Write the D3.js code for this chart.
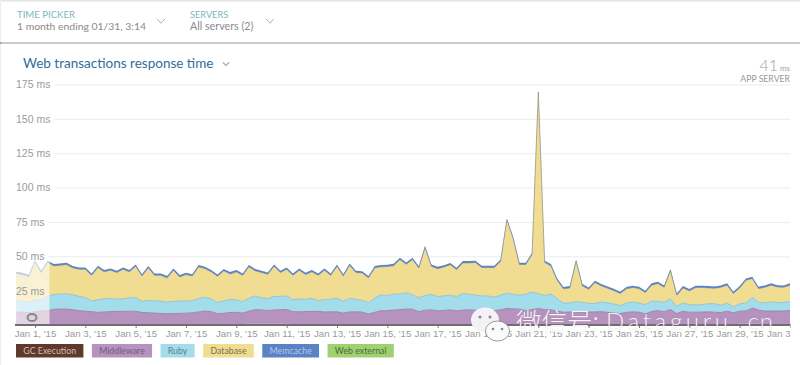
<!DOCTYPE html>
<html>

<head>
    <meta charset="utf-8">
    <script src="https://d3js.org/d3.v7.min.js"></script>
    <style>
        html, body { margin: 0; padding: 0; background: #fff; overflow: hidden; }
        svg { display: block; font-family: Lato, "Open Sans", sans-serif; }
        .gridlines line { stroke: #ececec; }
        .gridlines .domain, .y.axis .domain, .x.axis .domain { stroke: none; }
        .y.axis text { fill: #9a9a9a; font-size: 10.5px; }
        .x.axis text { fill: #9a9a9a; font-size: 9.7px; }
        .x.axis line { stroke: #777; }
        .y.axis line { stroke: none; }
        #watermark text { fill: #fff; fill-opacity: 0.92; stroke: #666; stroke-opacity: 0.25; stroke-width: 0.5; paint-order: stroke; }
    </style>
</head>

<body>
    <svg id="chart" width="800" height="365"></svg>
    <script>
        // values, one every 6 hours from Dec 31 06:00
        const yTicks = [25, 50, 75, 100, 125, 150, 175];
        const seriesNames = ["GC Execution", "Middleware", "Ruby", "Database", "Memcache", "Web external"];

        const totalMs = [
            38.7, 38.0, 36.6, 47.2, 39.5, 46.7, 44.3, 44.8, 45.3, 42.9, 41.9, 41.9, 37.5, 43.1, 40, 41.2, 39.5, 41.9, 40, 44.1, 37,
            42.9, 37.5, 37.5, 35.6, 41.2, 36.3, 38, 37, 43.6, 42.4, 40, 36.8, 40.7, 38.5, 40, 37.5, 43.6, 40.7, 39.5, 38.2,
            44.1, 39.5, 41.9, 37.5, 41.2, 38, 40, 37.5, 41.2, 37.5, 44.1, 37, 44.8, 39.5, 39.2, 35.6, 42.9, 43.6, 43.8, 44.5,
            48.9, 45.5, 48.9, 42.8, 57.4, 44, 42.3, 43.5, 45.2, 41.6, 46.5, 46.5, 46.7, 43.1, 43.1, 43.1, 47.7, 77.4, 64, 45.3,
            45.3, 52.5, 170, 46.7, 44.3, 33.9, 27.6, 28.3, 47.4, 29.8, 27.3, 32.2, 29.8, 28.1, 26.4, 24.2, 27.6, 28.6, 27.8,
            24.9, 30.3, 31.5, 28.8, 40.7, 23, 28.3, 26.2, 28.6, 28.6, 28.3, 28.1, 28.8, 30.3, 24.2, 28.3, 33.9, 35.1, 27.8, 28.8, 30.3, 29, 28.8, 30.3
        ];
        const gcExecution = [
            0.2, 0.2, 0.2, 0.2, 0.2, 0.2, 0.2, 0.2, 0.2, 0.2, 0.2, 0.2, 0.2, 0.2, 0.2, 0.2, 0.2, 0.2, 0.2, 0.2, 0.2,
            0.2, 0.2, 0.2, 0.2, 0.2, 0.2, 0.2, 0.2, 0.2, 0.2, 0.2, 0.2, 0.2, 0.2, 0.3, 0.8, 1, 1, 1, 1,
            1, 1, 0.9, 0.7, 0.3, 0.2, 0.2, 0.2, 0.2, 0.2, 0.2, 0.2, 0.2, 0.2, 0.2, 0.2, 0.2, 0.2, 0.2, 0.2,
            0.2, 0.2, 0.2, 0.2, 0.2, 0.2, 0.2, 0.2, 0.2, 0.2, 0.2, 0.2, 0.2, 0.2, 0.2, 0.2, 0.2, 0.2, 0.2, 0.2,
            0.2, 0.2, 0.2, 0.2, 0.2, 0.3, 0.3, 0.4, 0.5, 0.5, 0.5, 0.5, 0.5, 0.4, 0.3, 0.3, 0.3, 0.3, 0.3,
            0.3, 0.3, 0.3, 0.3, 0.3, 0.3, 0.3, 0.3, 0.3, 0.3, 0.3, 0.3, 0.3, 0.3, 0.5, 0.9, 1, 1, 0.9, 0.4, 0.3, 0.3, 0.3, 0.3
        ];
        const middleware = [
            9, 9.2, 8.8, 9.5, 10, 10.2, 11.2, 11.4, 11.4, 11, 10.2, 9.8, 9.5, 9, 9.3, 9.6, 9.7, 9.7, 9.8, 9.8, 8.9,
            8.7, 8.5, 8.2, 8, 8.1, 8.2, 8.4, 8.6, 9.3, 9.9, 9.6, 8, 8.3, 8.9, 8.9, 7.9, 9, 10.2, 10, 9.6,
            9.9, 10.1, 10.4, 9, 9.3, 9.6, 9.7, 9.7, 9.3, 9.4, 9.4, 8.5, 9.3, 9.4, 9.2, 7.8, 9, 10.2, 10.2, 10.7,
            11, 11.4, 11.3, 9.5, 10.6, 10.8, 10.1, 10.4, 10.8, 10.1, 10.6, 10.9, 10.6, 10.4, 10.2, 10.3, 10.9, 11.8, 11.6, 11.3,
            10.3, 11, 11.8, 11, 10.8, 9.8, 9, 9, 9.2, 9.2, 8.9, 9, 9.2, 8.8, 8.4, 8, 8.9, 9.3, 9,
            7.8, 9.5, 10.2, 9.4, 11, 8, 9.7, 9, 9, 9.1, 9.3, 9, 8.8, 9.7, 8.4, 9.1, 9.2, 11.3, 10, 9.7, 9.9, 9.8, 9.9, 10.2
        ];
        const ruby = [
            8.7, 7.8, 7.4, 8.6, 7.7, 10.4, 10.8, 10.9, 11.1, 10.8, 10.4, 10, 7.9, 9.1, 9.6, 9.5, 8.9, 9.2, 9.8, 10, 8.1,
            9, 8.9, 9, 8.5, 8.9, 9, 8.9, 8.8, 9.8, 10.2, 9.3, 8.2, 9.1, 9.3, 9.3, 8.3, 9.6, 9.9, 8.9, 8.6,
            9.9, 9.7, 9.9, 8.7, 9.3, 9, 9.4, 8, 8.9, 9.2, 9.7, 8.5, 9.8, 9.2, 8.5, 8.4, 10.4, 11.6, 11.1, 11.6,
            11.2, 11.8, 10.5, 10.1, 10.7, 11.4, 10.4, 10.6, 10.7, 10.4, 12.1, 11.3, 10.9, 10.6, 10.8, 9.8, 10.6, 11.2, 10.4, 10.2,
            12, 12.7, 10.9, 10.3, 11.5, 9.1, 6.7, 6.7, 7.2, 6.8, 6.3, 6.2, 7, 6.9, 6.6, 5.8, 6.8, 7.1, 6.7,
            6.7, 7.5, 6.8, 6.8, 7.6, 5.3, 6, 5.5, 5.3, 5.4, 5.9, 6.2, 5.2, 6, 4.4, 5.4, 5.8, 7.8, 5.7, 6, 6.6, 6.1, 6.3, 6.5
        ];
        const memcache = [
            1.3, 1.3, 1.3, 0.9, 1.3, 0.9, 1.3, 1.3, 1.3, 1.3, 1.3, 1.3, 1.3, 1.3, 1.3, 1.3, 1.3, 1.3, 1.3, 1.3, 1.3,
            1.3, 1.3, 1.3, 1.3, 1.3, 1.3, 1.3, 1.3, 1.3, 1.3, 1.3, 1.3, 1.3, 1.3, 1.3, 1.3, 1.3, 1.3, 1.3, 1.3,
            1.3, 1.3, 1.3, 1.3, 1.3, 1.3, 1.3, 1.3, 1.3, 1.3, 1.3, 1.3, 1.3, 1.3, 1.3, 1.3, 1.3, 1.3, 1.3, 1.3,
            1.3, 1.3, 1.3, 1.3, 1.0, 1.3, 1.3, 1.3, 1.3, 1.3, 1.3, 1.3, 1.3, 1.3, 1.3, 1.3, 1.3, 0.9, 1.0, 1.3,
            1.3, 1.0, 0.4, 1.1, 1.3, 1.3, 1.3, 1.3, 0.9, 1.3, 1.3, 1.3, 1.3, 1.3, 1.3, 1.3, 1.3, 1.3, 1.3,
            1.3, 1.3, 1.3, 1.3, 1.0, 1.3, 1.3, 1.3, 1.3, 1.3, 1.3, 1.3, 1.3, 1.3, 1.3, 1.3, 1.3, 1.3, 1.3, 1.3, 1.3, 1.3, 1.3, 1.3
        ];
        const webExternal = [
            0, 0, 0, 0, 0, 0, 0, 0, 0, 0, 0, 0, 0, 0, 0, 0, 0, 0, 0, 0, 0,
            0, 0, 0, 0, 0, 0, 0, 0, 0, 0, 0, 0, 0, 0, 0, 0, 0, 0, 0, 0,
            0, 0, 0, 0, 0, 0, 0, 0, 0, 0, 0, 0, 0, 0, 0, 0, 0, 0, 0, 0,
            0, 0, 0, 0, 0, 0, 0, 0, 0, 0, 0, 0, 0, 0, 0, 0, 0, 0, 0, 0,
            0, 0, 0, 0, 0, 0, 0, 0, 0, 0, 0, 0, 0, 0, 0, 0, 0, 0, 0,
            0, 0, 0, 0, 0, 0, 0, 0, 0, 0, 0, 0, 0, 0, 0, 0, 0, 0, 0, 0, 0, 0, 0, 0
        ];

        const fills = ["#5f3a2c", "#b692bf", "#a3dcea", "#f0dd92", "#5a82c6", "#9fd170"];
        const strokes = ["#5f3a2c", "#a583ae", "#93c6d2", "#8f8c7c"];
        const legendText = ["#cdbeb6", "#6f5d75", "#5f7f88", "#7a734f", "#b4c8e8", "#50683a"];

        const svg = d3.select("#chart");

        // page furniture
        svg.append("rect").attr("x", 0).attr("y", 0).attr("width", 800).attr("height", 1.5).attr("fill", "#e6e6e6");
        svg.append("rect").attr("x", 0).attr("y", 0).attr("width", 1).attr("height", 365).attr("fill", "#eee");
        svg.append("rect").attr("x", 0).attr("y", 42).attr("width", 800).attr("height", 2).attr("fill", "#cbcbcb");
        svg.append("rect").attr("x", 0).attr("y", 42).attr("width", 2).attr("height", 2).attr("fill", "#9ac46c");

        function chevron(x, y, w, color) {
            svg.append("path")
                .attr("d", "M" + (x - w) + "," + (y - w * 0.55) + "L" + x + "," + (y + w * 0.55) + "L" + (x + w) + "," + (y - w * 0.55))
                .attr("fill", "none").attr("stroke", color).attr("stroke-width", 0.9);
        }

        function label(x, y, text, size, color, anchor) {
            return svg.append("text").attr("x", x).attr("y", y).attr("font-size", size)
                .attr("fill", color).attr("text-anchor", anchor || "start").text(text);
        }

        label(17, 18, "TIME PICKER", 9.6, "#7fb5c4");
        label(17, 30, "1 month ending 01/31, 3:14", 10.4, "#8a8a8a");
        chevron(161, 21, 4, "#aaa");
        label(190, 18, "SERVERS", 9.2, "#7fb5c4");
        label(190, 30, "All servers (2)", 10.7, "#8a8a8a");
        chevron(270, 21, 4, "#aaa");

        label(23, 68, "Web transactions response time", 13.5, "#2f6e9b");
        chevron(226, 64, 3, "#2f6e9b");

        label(778, 71, "41", 16, "#a0a0a0", "end").attr("font-weight", 300);
        label(790, 71, "ms", 8, "#a0a0a0", "end");
        label(790, 82, "APP SERVER", 8.7, "#999", "end");

        // scales
        const startDate = Date.UTC(2014, 11, 31, 6);
        const dates = totalMs.map((d, i) => new Date(startDate + i * 6 * 3600 * 1000));

        const xScale = d3.scaleUtc()
            .domain([new Date(Date.UTC(2015, 0, 1)), new Date(Date.UTC(2015, 0, 31))])
            .range([35, 790]);
        const yScale = d3.scaleLinear().domain([0, 175]).range([325, 84.5]);

        // database is what is left of the total line once the other layers are taken out
        const rows = totalMs.map((t, i) => ({
            date: dates[i],
            "GC Execution": gcExecution[i],
            "Middleware": middleware[i],
            "Ruby": ruby[i],
            "Database": t - gcExecution[i] - middleware[i] - ruby[i] - memcache[i] - webExternal[i],
            "Memcache": memcache[i],
            "Web external": webExternal[i]
        }));
        const stacked = d3.stack().keys(seriesNames)(rows);

        // y axis first so the gridlines can start after each label
        const leftAxis = d3.axisLeft(yScale).tickValues(yTicks).tickFormat(d => d + " ms").tickSize(0);
        const yAxis = svg.append("g").attr("class", "y axis")
            .attr("transform", "translate(16,0)")
            .call(leftAxis);
        yAxis.selectAll("text").attr("text-anchor", "start").attr("x", 0).attr("dy", "0.32em");

        const gridlines = svg.insert("g", ".y.axis").attr("class", "gridlines");
        yAxis.selectAll(".tick text").each(function (d) {
            gridlines.append("line")
                .attr("x1", 16 + this.getComputedTextLength() + 4)
                .attr("x2", 790)
                .attr("y1", yScale(d) + 0.5)
                .attr("y2", yScale(d) + 0.5);
        });

        // stacked areas
        const area = d3.area()
            .x(d => xScale(d.data.date))
            .y0(d => yScale(d[0]))
            .y1(d => yScale(d[1]));
        const topLine = d3.line()
            .x(d => xScale(d.data.date))
            .y(d => yScale(d[1]));

        const marks = svg.insert("g", ".y.axis").attr("id", "areas");
        marks.selectAll("path.layer").data(stacked)
            .join("path")
            .attr("class", "layer")
            .attr("d", area)
            .attr("fill", (d, i) => fills[i]);
        marks.selectAll("path.edge").data(stacked.slice(1, 4))
            .join("path")
            .attr("class", "edge")
            .attr("d", topLine)
            .attr("fill", "none")
            .attr("stroke", (d, i) => strokes[i + 1])
            .attr("stroke-width", (d, i) => i === 2 ? 0.7 : 1);
        // memcache sits over the database edge, so the blue only thins out on the steep sides
        marks.selectAll("path.layer").filter((d, i) => i >= 4).raise();

        // time selector handle over the first few hours
        marks.append("rect")
            .attr("x", 15).attr("y", 84).attr("width", 34.5).attr("height", 241)
            .attr("fill", "#fff").attr("opacity", 0.6);
        marks.append("ellipse")
            .attr("cx", 32).attr("cy", 317.5).attr("rx", 4.5).attr("ry", 3.6)
            .attr("fill", "#d8d8d8").attr("stroke", "#888").attr("stroke-width", 2);

        // x axis, cut off at the chart edge
        svg.append("clipPath").attr("id", "axisClip")
            .append("rect").attr("x", 0).attr("y", 320).attr("width", 790.5).attr("height", 30);
        const bottomAxis = d3.axisBottom(xScale)
            .tickValues(d3.utcDay.range(new Date(Date.UTC(2015, 0, 1)), new Date(Date.UTC(2015, 0, 32)), 2))
            .tickFormat(d3.utcFormat("%b %-d, '%y"))
            .tickSize(2);
        const xAxis = svg.append("g").attr("class", "x axis")
            .attr("clip-path", "url(#axisClip)")
            .append("g")
            .attr("transform", "translate(0,326)")
            .call(bottomAxis);
        xAxis.selectAll("text").attr("y", 4.5);
        svg.append("rect").attr("x", 15).attr("y", 324).attr("width", 775.5).attr("height", 2).attr("fill", "#6f6f6f");

        // legend
        let legendX = 16;
        seriesNames.forEach((name, i) => {
            const box = svg.append("rect").attr("y", 344).attr("height", 13.5).attr("fill", fills[i]);
            const t = svg.append("text").attr("y", 354).attr("font-size", 8.8)
                .attr("fill", legendText[i]).text(name);
            const w = t.node().getComputedTextLength() + 14.5;
            box.attr("x", legendX).attr("width", w);
            t.attr("x", legendX + 7.25);
            legendX += w + 8.5;
        });

        // watermark
        const wm = svg.append("g").attr("id", "watermark");
        wm.append("ellipse").attr("cx", 485).attr("cy", 320).attr("rx", 14).attr("ry", 12.5).attr("fill", "#f6f1f6");
        wm.append("ellipse").attr("cx", 497.5).attr("cy", 331).attr("rx", 12).attr("ry", 10)
            .attr("fill", "#fbfbfb").attr("stroke", "#777").attr("stroke-width", 0.7);
        [[480, 317], [490, 317]].forEach(p => wm.append("circle").attr("cx", p[0]).attr("cy", p[1]).attr("r", 1.5).attr("fill", "#9a7aa5"));
        [[493, 329], [502, 329]].forEach(p => wm.append("circle").attr("cx", p[0]).attr("cy", p[1]).attr("r", 1.3).attr("fill", "#888"));
        wm.append("text")
            .attr("x", 516).attr("y", 331)
            .attr("font-family", "'Noto Sans CJK SC', sans-serif")
            .attr("font-weight", 300)
            .attr("font-size", 25.5)
            .text("微信号:");
        wm.append("text")
            .attr("x", 606).attr("y", 330)
            .attr("font-weight", 300)
            .attr("font-size", 24)
            .attr("textLength", 122)
            .text("Dataguru");
        wm.append("text")
            .attr("x", 741).attr("y", 330)
            .attr("font-weight", 300)
            .attr("font-size", 24)
            .attr("textLength", 32)
            .text(".cn");
    </script>
</body>

</html>
